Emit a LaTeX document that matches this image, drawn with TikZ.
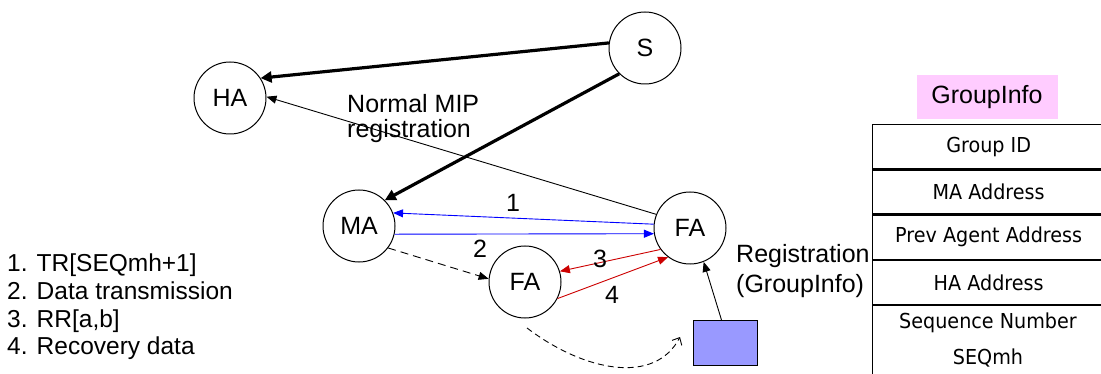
\documentclass[tikz,border=0pt]{standalone}
\usepackage{fontspec}
\setmainfont{Liberation Sans}
\newfontfamily\tabfont[FakeStretch=0.93]{DejaVu Sans}
\usetikzlibrary{arrows.meta}
\definecolor{linkblue}{RGB}{0,0,255}
\definecolor{linkred}{RGB}{204,0,0}
\definecolor{infopink}{RGB}{255,204,255}
\definecolor{pktblue}{RGB}{153,153,255}

\begin{document}
\begin{tikzpicture}[x=1pt,y=-1pt,
  agent/.style={circle,draw,line width=1pt,minimum size=72pt,inner sep=0pt,
    font=\fontsize{25}{30}\selectfont},
  lbl/.style={font=\fontsize{25}{30}\selectfont,inner sep=0pt},
  legend/.style={font=\fontsize{24.5}{30}\selectfont,inner sep=0pt,anchor=base west},
  msg/.style={line width=0.9pt,-{Triangle[length=10pt,width=8pt]}},
  heavy/.style={line width=3.2pt,-{Triangle[length=11pt,width=11pt]}},
  row/.style={draw,line width=1.3pt,minimum width=232pt,minimum height=44pt,
    anchor=north west,inner sep=0pt,align=center,
    font=\tabfont\fontsize{20.6}{35}\selectfont},
  cell/.style={inner sep=0pt,anchor=base,font=\tabfont\fontsize{20.6}{35}\selectfont},
]
\useasboundingbox (0,0) rectangle (1101,374);

% agents
\node[agent] (S)   at (645,48)  {S};
\node[agent] (HA)  at (230,98)  {HA};
\node[agent] (MA)  at (359,226) {MA};
\node[agent] (FA)  at (690,228) {FA};
\node[agent] (FA2) at (525,282) {FA};
\node[draw,fill=pktblue,line width=1pt,minimum width=64pt,minimum height=45pt,
  inner sep=0pt,anchor=north west] (pkt) at (693,320) {};

% data source paths
\draw[heavy] (S.172) -- (HA.33);
\draw[heavy] (S.225) -- (MA.45);

% normal registration
\draw[msg] (FA.158) -- (HA.2);
\node[lbl,anchor=base west] (mip1) at (347,113) {Normal MIP};
\node[lbl,anchor=base west] (mip2) at (347,138) {registration};

% steps 1 and 2
\draw[msg,linkblue] (FA.174) -- (MA.21);
\draw[msg,linkblue] (MA.-13) -- (FA.189);
\draw[msg,dash pattern=on 8pt off 5pt] (MA.-37) -- (FA2.175);
\node[lbl,anchor=base] (n1) at (513,212) {1};
\node[lbl,anchor=base] (n2) at (480,258) {2};

% steps 3 and 4
\draw[msg,linkred] (FA.216) -- (FA2.17);
\draw[msg,linkred] (FA2.-27) -- (FA.233);
\node[lbl,anchor=base] (n3) at (600,268) {3};
\node[lbl,anchor=base] (n4) at (612,303) {4};

% registration with group info
\draw[msg] (pkt.north) ++(-4,0) coordinate (pktup) -- (FA.-68);
\node[lbl,anchor=base west] (reg1) at (736,263) {Registration};
\node[lbl,anchor=base west] (reg2) at (736,293) {(GroupInfo)};

% handover of the mobile host
\coordinate (mvA) at (527,328);
\coordinate (mvB) at (680,337);
\draw[line width=0.9pt,dash pattern=on 6pt off 4pt,-{Straight Barb[length=6pt,width=11pt]}]
  (mvA) .. controls (585,372) and (655,385) .. (mvB);

% legend
\node[legend] (lg1) at (7,272) {1. TR[SEQmh+1]};
\node[legend] (lg2) at (7,299.5) {2. Data transmission};
\node[legend] (lg3) at (7,327) {3. RR[a,b]};
\node[legend] (lg4) at (7,354.5) {4. Recovery data};

% group info record
\node[fill=infopink,minimum width=141pt,minimum height=44pt,inner sep=0pt,
  font=\fontsize{25}{30}\selectfont] (gi) at (987,97) {GroupInfo};
\node[row] (r1) at (872,124) {Group ID};
\node[row] (r2) at (r1.south west) {MA Address};
\node[row] (r3) at (r2.south west) {Prev Agent Address};
\node[row] (r4) at (r3.south west) {HA Address};
\node[row,minimum height=86pt] (r5) at (r4.south west) {};
\node[cell] (seq1) at (988,328) {Sequence Number};
\node[cell] (seq2) at (988,364) {SEQmh};
\end{tikzpicture}
\end{document}
